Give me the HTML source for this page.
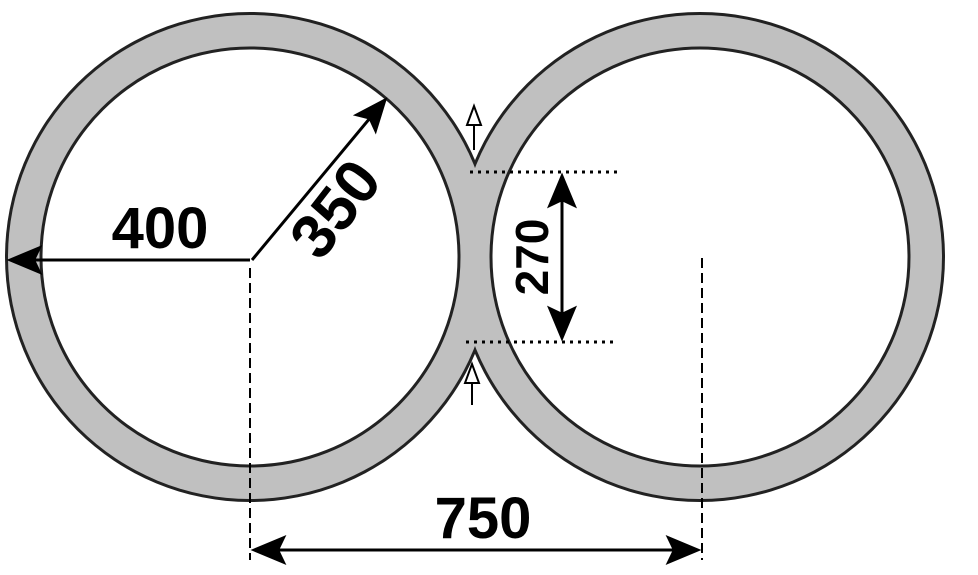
<!DOCTYPE html>
<html><head><style>body{margin:0;background:#fff;overflow:hidden}svg{display:block}</style></head>
<body>
<svg width="978" height="575" viewBox="0 0 978 575" xmlns="http://www.w3.org/2000/svg">
<defs>
<marker id="big" viewBox="0 0 10 10" refX="9" refY="5" markerWidth="36" markerHeight="30" markerUnits="userSpaceOnUse" orient="auto-start-reverse" preserveAspectRatio="none"><path d="M0,0 L10,5 L0,10 L2,5 z" fill="#000"/></marker>
</defs>
<circle cx="250" cy="257" r="245" fill="#222"/>
<circle cx="700" cy="257" r="245" fill="#222"/>
<circle cx="250" cy="257" r="242" fill="#c0c0c0"/>
<circle cx="700" cy="257" r="242" fill="#c0c0c0"/>
<circle cx="250" cy="257" r="209" fill="#fff" stroke="#222" stroke-width="3"/>
<circle cx="700" cy="257" r="209" fill="#fff" stroke="#222" stroke-width="3"/>
<path d="M474 150 V110" stroke="#000" stroke-width="2" fill="none"/>
<path d="M467 125 L474 106 L481 125 z" fill="#fff" stroke="#000" stroke-width="2"/>
<path d="M472 405 V365" stroke="#000" stroke-width="2" fill="none"/>
<path d="M465 383 L472 364 L479 383 z" fill="#fff" stroke="#000" stroke-width="2"/>
<line x1="470" y1="172" x2="618" y2="172" stroke="#000" stroke-width="3" stroke-dasharray="3,5"/>
<line x1="466" y1="342" x2="618" y2="342" stroke="#000" stroke-width="3" stroke-dasharray="3,5"/>
<line x1="562" y1="176" x2="562" y2="338" stroke="#000" stroke-width="3" marker-start="url(#big)" marker-end="url(#big)"/>
<text transform="translate(548,257) rotate(-90)" text-anchor="middle" font-family="Liberation Sans, sans-serif" font-weight="bold" font-size="46">270</text>
<line x1="250" y1="268" x2="250" y2="560" stroke="#000" stroke-width="2" stroke-dasharray="10,5"/>
<line x1="702" y1="258" x2="702" y2="560" stroke="#000" stroke-width="2" stroke-dasharray="10,5"/>
<line x1="250" y1="260" x2="10" y2="260" stroke="#000" stroke-width="3" marker-end="url(#big)"/>
<text x="160" y="248" text-anchor="middle" font-family="Liberation Sans, sans-serif" font-weight="bold" font-size="58">400</text>
<line x1="252" y1="260" x2="385" y2="100" stroke="#000" stroke-width="3" marker-end="url(#big)"/>
<text transform="translate(352,222) rotate(-52)" text-anchor="middle" font-family="Liberation Sans, sans-serif" font-weight="bold" font-size="62">350</text>
<line x1="254" y1="550" x2="698" y2="550" stroke="#000" stroke-width="3" marker-start="url(#big)" marker-end="url(#big)"/>
<text x="483" y="538" text-anchor="middle" font-family="Liberation Sans, sans-serif" font-weight="bold" font-size="58">750</text>
</svg>
</body></html>
